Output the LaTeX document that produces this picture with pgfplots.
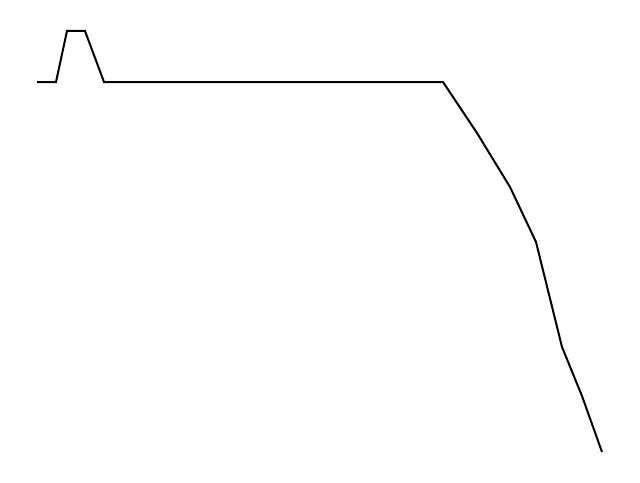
\documentclass[border=0pt]{standalone}
\usepackage{pgfplots}
\pgfplotsset{compat=1.18}
\begin{document}
\begin{tikzpicture}
\begin{axis}[
  scale only axis, width=640bp, height=482bp,
  xmin=0, xmax=640, ymin=0, ymax=482, y dir=reverse,
  hide axis, clip=false]
\path (rel axis cs:0,0) rectangle (rel axis cs:1,1);
\addplot[black, line width=2bp, line join=miter, mark=none] coordinates {
(37,82) (56,82) (67,31) (85,31) (104,82) (443,82) (477,133) (510,187) (536,242) (562,347) (582,396) (602,452)
};
\end{axis}
\end{tikzpicture}
\end{document}
